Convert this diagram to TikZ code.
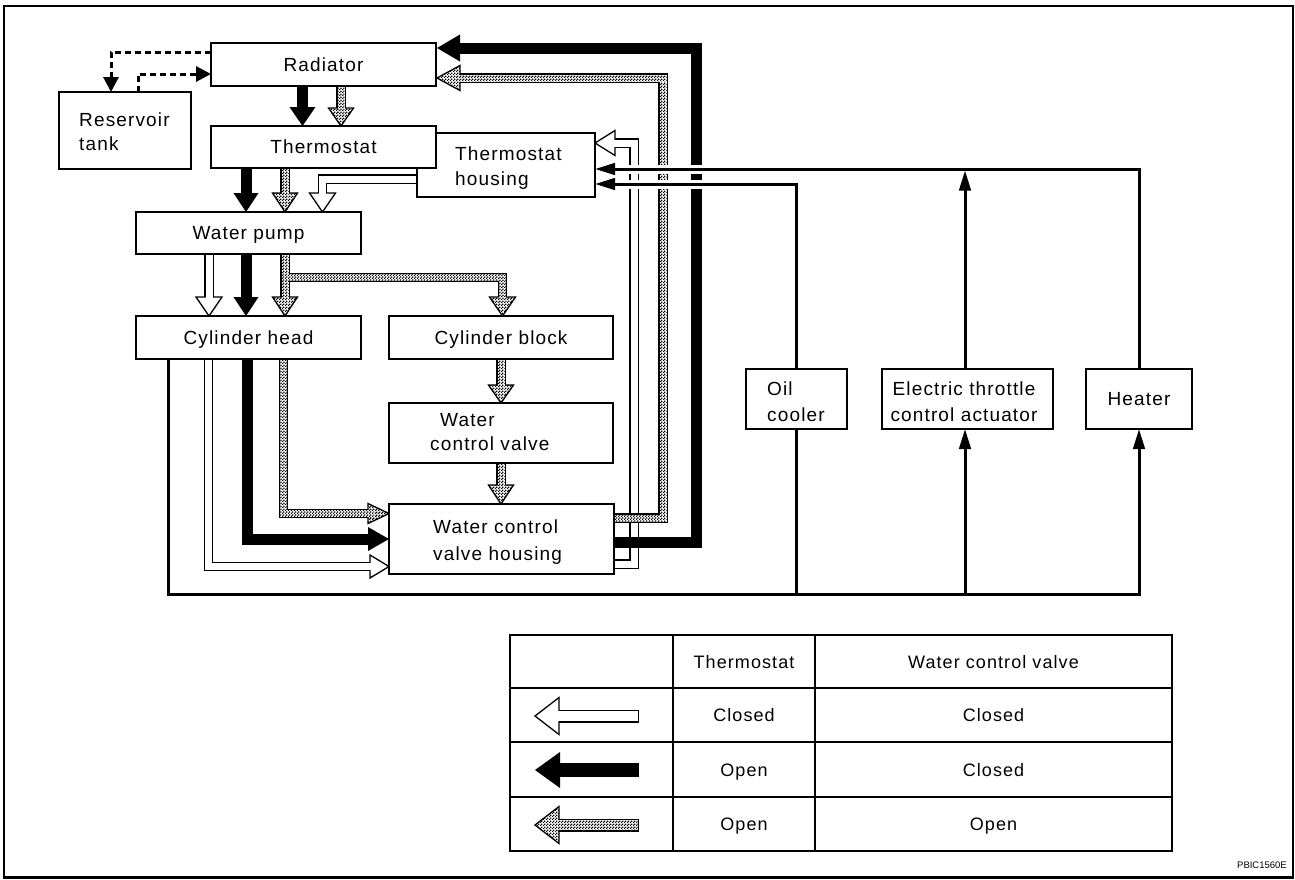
\documentclass[tikz,border=0pt]{standalone}
\usepackage{fontspec}
\setmainfont{Liberation Sans}[LetterSpace=6]
\newfontfamily\codefont{Liberation Sans}
\usetikzlibrary{arrows.meta,calc,patterns}

% fine stipple used for the "open / open" flow
\pgfdeclarepatternformonly{stipple}{\pgfqpoint{0pt}{0pt}}{\pgfqpoint{3pt}{3pt}}{\pgfqpoint{3pt}{3pt}}{%
  \pgfpathrectangle{\pgfqpoint{0pt}{0pt}}{\pgfqpoint{1.6pt}{1.6pt}}%
  \pgfpathrectangle{\pgfqpoint{1.5pt}{1.5pt}}{\pgfqpoint{1.5pt}{1.5pt}}%
  \pgfusepath{fill}}

% triangular heads: base point, tip point, half width
\newcommand\ohead[3]{\filldraw[fill=white, draw=black, line width=1.3pt, line join=miter]
  ($(#1)!#3!90:(#2)$) -- (#2) -- ($(#1)!#3!-90:(#2)$) -- cycle;}
\newcommand\dhead[3]{\filldraw[fill=white, draw=black, line width=1.3pt, line join=miter, postaction={pattern=stipple}]
  ($(#1)!#3!90:(#2)$) -- (#2) -- ($(#1)!#3!-90:(#2)$) -- cycle;}
\newcommand\bhead[3]{\fill ($(#1)!#3!90:(#2)$) -- (#2) -- ($(#1)!#3!-90:(#2)$) -- cycle;}
% outlined white pipe: path, head base, head tip, head half width
\newcommand\opipe[4]{\draw[line width=9.6pt] #1;\ohead{#2}{#3}{#4}\draw[line width=7pt, white] #1;}
% stippled interior of one straight pipe segment
\newcommand\dseg[4]{\fill[white, postaction={pattern=stipple}]
  ({min(#1,#3)-3.5},{min(#2,#4)-3.5}) rectangle ({max(#1,#3)+3.5},{max(#2,#4)+3.5});}
% solid black pipe: path, head base, head tip, head half width
\newcommand\bpipe[4]{\draw[line width=11pt] #1;\bhead{#2}{#3}{#4}}

\begin{document}
\begin{tikzpicture}[x=1pt, y=-1pt, font=\fontsize{19}{23}\selectfont,
  box/.style={draw, line width=1.6pt, fill=white, inner sep=0pt, text height=13.6pt, text depth=0pt},
  lbl/.style={inner sep=0pt},
  flow/.style={line width=3pt, -{Triangle[length=20pt,width=11.5pt]}},
  flowline/.style={line width=3pt},
  resline/.style={line width=3pt, dash pattern=on 6pt off 4pt, -{Triangle[length=15pt,width=15pt]}},
  cell/.style={inner sep=0pt, text height=13pt, text depth=0pt, font=\fontsize{18}{22}\selectfont}]
\useasboundingbox (0,0) rectangle (1295,879);
\draw[line width=2.5pt] (4,6) rectangle (1293,877.5);

% ---------- coolant pipes ----------
% radiator -> thermostat
\bpipe{(302.5,86) -- (302.5,109)}{302.5,107}{302.5,126}{13pt}
\draw[line width=9.6pt] (341,86) -- (341,110);
\dhead{341,108}{341,126}{12.5pt}
\dseg{341}{86}{341}{110}
% thermostat / housing -> water pump
\bpipe{(246,168) -- (246,195)}{246,193}{246,212}{12.5pt}
\draw[line width=9.6pt] (285,168) -- (285,195);
\dhead{285,193}{285,212}{12.5pt}
\dseg{285}{168}{285}{195}
\opipe{(417,179) -- (322.5,179) -- (322.5,195)}{322.5,193}{322.5,212}{13pt}
% water pump -> cylinder head / cylinder block
\opipe{(209,254) -- (209,299)}{209,297}{209,316}{13pt}
\bpipe{(246,254) -- (246,299)}{246,297}{246,316}{12.5pt}
\draw[line width=9.6pt] (285,254) -- (285,299) (285,277.5) -- (502.5,277.5) -- (502.5,299);
\dhead{285,297}{285,316}{12.5pt}
\dhead{502.5,297}{502.5,316}{13pt}
\dseg{285}{254}{285}{299}
\dseg{285}{277.5}{502.5}{277.5}
\dseg{502.5}{277.5}{502.5}{299}
% cylinder block -> water control valve -> housing
\draw[line width=9.6pt] (501,359) -- (501,387) (501,463) -- (501,487);
\dhead{501,385}{501,403}{12.5pt}
\dhead{501,485}{501,504}{12.5pt}
\dseg{501}{359}{501}{387}
\dseg{501}{463}{501}{487}
% cylinder head -> water control valve housing
\opipe{(208.5,359) -- (208.5,566.5) -- (372,566.5)}{370,566.5}{389,566.5}{11.5pt}
\bpipe{(247,359) -- (247,539) -- (370,539)}{368,539}{389,539}{12pt}
\draw[line width=9.6pt] (283.5,359) -- (283.5,513.5) -- (370,513.5);
\dhead{368,513.5}{389,513.5}{10pt}
\dseg{283.5}{359}{283.5}{513.5}
\dseg{283.5}{513.5}{370}{513.5}
% water control valve housing -> thermostat housing / radiator
\opipe{(614,564) -- (634,564) -- (634,143) -- (613,143)}{615,143}{595,143}{12.5pt}
\draw[line width=9.6pt] (614,518) -- (663,518) -- (663,78) -- (458,78);
\dhead{460,78}{437,78}{12.5pt}
\dseg{614}{518}{663}{518}
\dseg{663}{518}{663}{78}
\dseg{663}{78}{458}{78}
\bpipe{(614,542) -- (696,542) -- (696,48) -- (458,48)}{460,48}{437,48}{13.5pt}

% ---------- reservoir lines ----------
\draw[resline] (211,52) -- (111,52) -- (111,92);
\draw[resline] (138,92) -- (138,74) -- (211,74);

% ---------- bypass circuit ----------
\draw[white, line width=9pt] (612,169) -- (720,169) (612,184) -- (720,184);
\draw[flowline, -{Triangle[length=20pt,width=11.5pt]}] (168,359) -- (168,594) -- (1139,594) -- (1139,429);
\draw[flow] (965,594) -- (965,429);
\draw[flowline] (796.5,594) -- (796.5,429);
\draw[flow] (1139,369) -- (1139,169) -- (595,169);
\draw[flow] (796.5,369) -- (796.5,184) -- (595,184);
\draw[flow] (965,369) -- (965,170.5);

% ---------- components ----------
\node[box, minimum width=132pt, minimum height=77pt] (res) at (125,130.5) {};
\node[lbl, anchor=base west] (res1) at (79,126) {Reservoir};
\node[lbl, anchor=base west] (res2) at (79,150) {tank};
\node[box, minimum width=225pt, minimum height=43pt] (rad) at (323.5,64.5) {Radiator};
\node[box, minimum width=178pt, minimum height=64pt] (hsg) at (506,165) {};
\node[lbl, anchor=base west] (hsg1) at (455,160) {Thermostat};
\node[lbl, anchor=base west] (hsg2) at (455,185.5) {housing};
\node[box, minimum width=225pt, minimum height=42pt] (thm) at (323.5,147) {Thermostat};
\node[box, minimum width=225pt, minimum height=42pt] (pump) at (248.5,233) {Water pump};
\node[box, minimum width=225pt, minimum height=43pt] (head) at (248.5,337.5) {Cylinder head};
\node[box, minimum width=224pt, minimum height=43pt] (block) at (501,337.5) {Cylinder block};
\node[box, minimum width=224pt, minimum height=60pt] (wcv) at (501,433) {};
\node[lbl, anchor=base west] (wcv1) at (440,426) {Water};
\node[lbl, anchor=base west] (wcv2) at (430,450) {control valve};
\node[box, minimum width=225pt, minimum height=70pt] (wcvh) at (501.5,539) {};
\node[lbl, anchor=base west] (wcvh1) at (433,533) {Water control};
\node[lbl, anchor=base west] (wcvh2) at (433,560) {valve housing};
\node[box, minimum width=101pt, minimum height=60pt] (oil) at (796.5,399) {};
\node[lbl, anchor=base west] (oil1) at (767,395.5) {Oil};
\node[lbl, anchor=base west] (oil2) at (767,421) {cooler};
\node[box, minimum width=171pt, minimum height=60pt] (etc) at (967.5,399) {};
\node[lbl, anchor=base] (etc1) at (964,395.5) {Electric throttle};
\node[lbl, anchor=base] (etc2) at (964,421) {control actuator};
\node[box, minimum width=106pt, minimum height=60pt] (heat) at (1139,399) {Heater};

% ---------- legend ----------
\draw[line width=1.3pt] (510,635) rectangle (1172,851);
\draw[line width=1.3pt] (510,688) -- (1172,688) (510,742) -- (1172,742) (510,797) -- (1172,797)
  (673,635) -- (673,851) (815,635) -- (815,851);
\node[cell] (h1) at (744,661.5) {Thermostat};
\node[cell] (h2) at (993.5,661.5) {Water control valve};
\node[cell] (a1) at (744,715) {Closed};
\node[cell] (b1) at (993.5,715) {Closed};
\node[cell] (a2) at (744,769.5) {Open};
\node[cell] (b2) at (993.5,769.5) {Closed};
\node[cell] (a3) at (744,824) {Open};
\node[cell] (b3) at (993.5,824) {Open};
\draw[line width=13pt] (639,716) -- (557,716);
\ohead{559,716}{535,716}{18.5pt}
\draw[line width=10.4pt, white] (637.7,716) -- (557,716);
\draw[line width=14pt] (639,770) -- (558,770);
\bhead{560,770}{535,770}{18pt}
\draw[line width=13pt] (639,825) -- (557,825);
\dhead{559,825}{535,825}{18.5pt}
\fill[white, postaction={pattern=stipple}] (557,819.8) rectangle (637.7,830.2);

\node[lbl, anchor=base east, font=\codefont\fontsize{9.5}{11}\selectfont] (code) at (1287,868) {PBIC1560E};
\end{tikzpicture}
\end{document}
